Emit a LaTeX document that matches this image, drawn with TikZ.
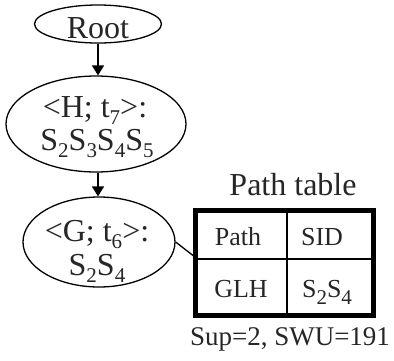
\documentclass[tikz,border=0pt]{standalone}
\usepackage{fontspec}
\setmainfont{Liberation Serif}
\usetikzlibrary{shapes.geometric,arrows.meta}
\newcommand\sbs[1]{\raisebox{-7pt}{\fontsize{21}{21}\selectfont #1}}
\begin{document}
\begin{tikzpicture}[x=1pt,y=-1pt,
  ell/.style={draw, ellipse, line width=1.3pt, inner sep=0pt},
  big/.style={font=\fontsize{32}{35}\selectfont, inner sep=0pt, anchor=base, text=black!85},
  cell/.style={font=\fontsize{26}{28}\selectfont, inner sep=0pt, anchor=base, text=black!85},
  arr/.style={-{Triangle[length=10pt,width=12pt]}, line width=1.8pt},
  thinrule/.style={line width=2pt}]
\useasboundingbox (0,0) rectangle (394,360);
% ellipses
\node[ell, minimum width=127pt, minimum height=38pt] (root) at (98,24) {};
\node[ell, minimum width=180pt, minimum height=96pt] (H) at (96,124) {};
\node[ell, minimum width=152pt, minimum height=90pt] (G) at (99,242) {};
% texts
\node[big] (roott) at (98,38) {Root};
\node[big] (h1) at (95,117) {<H; t\sbs{7}>:};
\node[big] (h2) at (97,150) {S\sbs{2}S\sbs{3}S\sbs{4}S\sbs{5}};
\node[big] (g1) at (97,241) {<G; t\sbs{6}>:};
\node[big] (g2) at (97,275) {S\sbs{2}S\sbs{4}};
% arrows
\draw[arr] (root.south) -- (root.south |- H.north);
\draw[arr] (H.south -| root.south) -- (root.south |- G.north);
% table
\node[cell, font=\fontsize{32}{35}\selectfont] (title) at (293,195) {Path table};
\node[draw, line width=5pt, minimum width=178pt, minimum height=105pt, inner sep=0pt] (tbl) at (284,262.5) {};
\coordinate (vt) at (287,210);
\coordinate (vb) at (287,315);
\coordinate (hl) at (195,259);
\coordinate (hr) at (373,259);
\draw[thinrule] (vt) -- (vb);
\draw[thinrule] (hl) -- (hr);
\node[cell] (c11) at (238,245) {Path};
\node[cell] (c12) at (322,245) {SID};
\node[cell] (c21) at (241,297) {GLH};
\node[cell] (c22) at (327,297) {S\sbs{2}S\sbs{4}};
\node[cell, font=\fontsize{27}{29}\selectfont] (sup) at (290,345) {Sup=2, SWU=191};
% connector
\coordinate (tin) at (195,257);
\draw[line width=1.3pt] (G.east) -- (tin);
\end{tikzpicture}
\end{document}
